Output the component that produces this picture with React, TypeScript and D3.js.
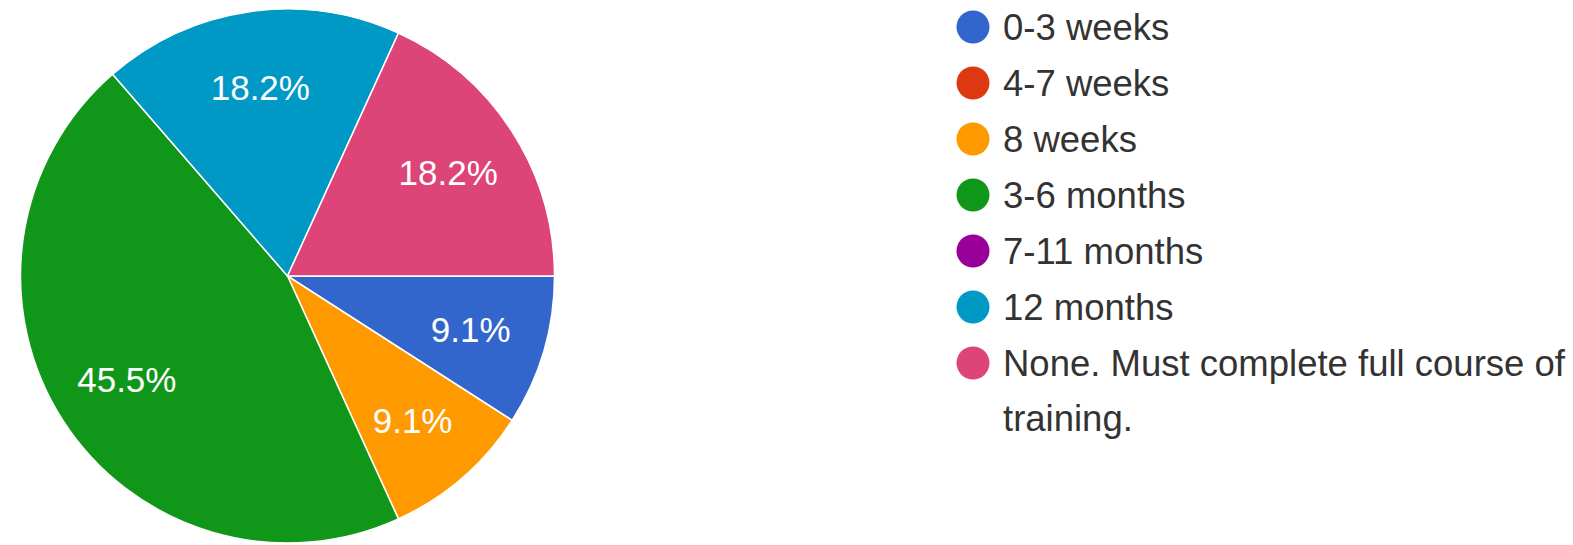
import React from "react";
import * as d3 from "d3";

const categories: string[] = [
  "0-3 weeks",
  "4-7 weeks",
  "8 weeks",
  "3-6 months",
  "7-11 months",
  "12 months",
  "None. Must complete full course of training.",
];
const counts: number[] = [1, 0, 1, 5, 0, 2, 2];
const colors: string[] = ["#3366cc", "#dc3912", "#ff9900", "#109618", "#990099", "#0099c6", "#dd4477"];

const W = 1573;
const H = 545;
const FONT = "Arial, 'Liberation Sans', sans-serif";

function wrap(text: string, maxWidth: number, fontSize: number): string[] {
  const canvas = document.createElement("canvas");
  const ctx = canvas.getContext("2d");
  if (!ctx) return [text];
  ctx.font = `${fontSize}px Arial, 'Liberation Sans', sans-serif`;
  const words = text.split(" ");
  const lines: string[] = [];
  let cur = "";
  for (const w of words) {
    const test = cur ? cur + " " + w : w;
    if (cur && ctx.measureText(test).width > maxWidth) {
      lines.push(cur);
      cur = w;
    } else cur = test;
  }
  if (cur) lines.push(cur);
  return lines;
}

export default function App() {
  const cx = 287.5;
  const cy = 276;
  const R = 267;
  const total = d3.sum(counts);
  const pie = d3
    .pie<number>()
    .sort(null)
    .value((d) => d)
    .startAngle(Math.PI / 2)
    .endAngle(Math.PI / 2 + 2 * Math.PI);
  const arcs = pie(counts);
  const arc = d3.arc<d3.PieArcDatum<number>>().innerRadius(0).outerRadius(R);
  const labelArc = d3.arc<d3.PieArcDatum<number>>().innerRadius(191).outerRadius(191);
  const fmt = d3.format(".1%");

  const legendX = 973;
  const textX = 1003;
  const legendY0 = 27;
  const rowH = 56;
  const fontSize = 36.5;
  const lineH = 55;

  return (
    <svg
      width={W}
      height={H}
      style={{ position: "absolute", left: 0, top: 0, background: "#fff" }}
      fontFamily={FONT}
    >
      <g transform={`translate(${cx},${cy})`}>
        {arcs.map((a, i) =>
          a.value > 0 ? (
            <path key={i} d={arc(a) || ""} fill={colors[i]} stroke="#fff" strokeWidth={1.5} />
          ) : null
        )}
        {arcs.map((a, i) => {
          if (a.value <= 0) return null;
          const [x, y] = labelArc.centroid(a);
          return (
            <text
              key={"l" + i}
              x={x}
              y={y}
              dy="0.36em"
              textAnchor="middle"
              fill="#fff"
              fontSize={35}
            >
              {fmt(a.value / total)}
            </text>
          );
        })}
      </g>
      <g>
        {categories.map((c, i) => {
          const y = legendY0 + i * rowH;
          const lines = wrap(c, W - textX - 4, fontSize);
          return (
            <g key={c}>
              <circle cx={legendX} cy={y} r={16.5} fill={colors[i]} />
              <text x={textX} y={y} fill="#333" fontSize={fontSize}>
                {lines.map((ln, j) => (
                  <tspan key={j} x={textX} dy={j === 0 ? "0.36em" : lineH}>
                    {ln}
                  </tspan>
                ))}
              </text>
            </g>
          );
        })}
      </g>
    </svg>
  );
}
